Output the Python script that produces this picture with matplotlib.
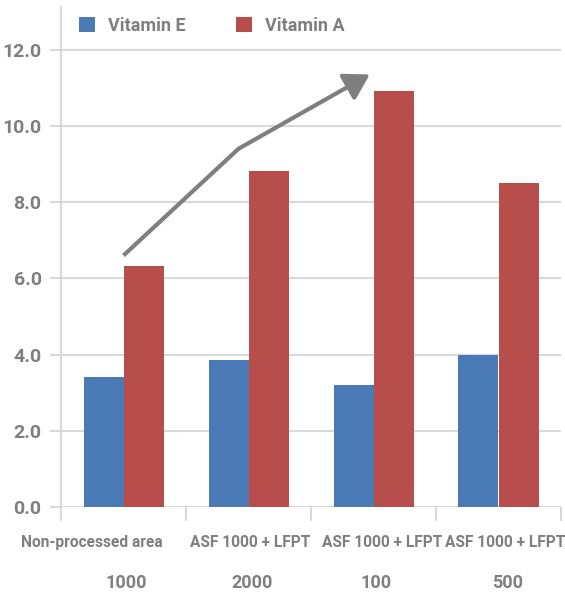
import matplotlib
matplotlib.use("Agg")
import matplotlib.pyplot as plt
import matplotlib.transforms as mtransforms
import numpy as np

# ───────────────────────── data ───────────────────────── #

treatments = ["Non-processed area", "ASF 1000 + LFPT", "ASF 1000 + LFPT", "ASF 1000 + LFPT"]
doses = ["1000", "2000", "100", "500"]
vitamin_e = [3.42, 3.85, 3.2, 4.0]
vitamin_a = [6.33, 8.82, 10.92, 8.5]
yticks = [0.0, 2.0, 4.0, 6.0, 8.0, 10.0, 12.0]

# trend arrow (category index, value)
arrow_x = [0.0, 0.92, 1.97]
arrow_y = [6.6, 9.4, 11.35]

# label nudges (in category units), mimicking the original layout
row1_shift = [-0.25, 0.01, 0.07, 0.05]
row2_shift = [0.02, 0.03, 0.02, 0.07]

# ───────────────────────── style ───────────────────────── #

plt.rcParams["font.family"] = ["Roboto", "DejaVu Sans"]

BLUE = "#4a7ab5"
RED = "#b84e4c"
GREY_TXT = "#7f7f7f"
GRID = "#d9d9d9"

fig = plt.figure(figsize=(5.65, 5.94), dpi=100)
ax = fig.add_axes([61 / 565, 1 - 507 / 594, 500 / 565, 500 / 594])

x = np.arange(len(treatments))
w = 0.32
ax.bar(x - w / 2, vitamin_e, w, color=BLUE, label="Vitamin E", zorder=3)
ax.bar(x + w / 2, vitamin_a, w, color=RED, label="Vitamin A", zorder=3)

ax.set_xlim(-0.5, len(treatments) - 0.5)
ax.set_ylim(0, 13.12)
ax.set_yticks(yticks)
ax.set_yticklabels([f"{v:.1f}" for v in yticks])
ax.set_xticks(x)
ax.set_xticklabels([])
ax.set_xticks(np.arange(len(treatments) + 1) - 0.5, minor=True)

ax.grid(axis="y", color=GRID, linewidth=1.5, zorder=0)
for s in ["top", "right", "bottom"]:
    ax.spines[s].set_visible(False)
ax.spines["left"].set_color(GRID)
ax.spines["left"].set_linewidth(1.5)

ax.tick_params(axis="y", length=8, width=1.5, color=GRID, labelcolor=GREY_TXT,
               labelsize=14, pad=6)
ax.tick_params(axis="x", which="major", length=0)
ax.tick_params(axis="x", which="minor", length=10, width=1.5, color=GRID)
for lbl in ax.get_yticklabels():
    lbl.set_fontweight("bold")

# two-row category labels
trans = mtransforms.blended_transform_factory(ax.transData, ax.transAxes)
for i, (name, dose) in enumerate(zip(treatments, doses)):
    ax.text(i + row1_shift[i], -0.08, name, transform=trans, ha="center",
            va="baseline", fontsize=11.2, fontweight="bold", color=GREY_TXT)
    ax.text(i + row2_shift[i], -0.162, dose, transform=trans, ha="center",
            va="baseline", fontsize=13, fontweight="bold", color=GREY_TXT)

# trend arrow
ax.plot(arrow_x[:2], arrow_y[:2], color="#7f7f7f", linewidth=3,
        solid_capstyle="butt", zorder=4)
ax.annotate("", xy=(arrow_x[2], arrow_y[2]), xytext=(arrow_x[1], arrow_y[1]),
            arrowprops=dict(arrowstyle="-|>,head_length=1.5,head_width=0.9",
                            color="#7f7f7f", lw=3, shrinkA=0, shrinkB=0),
            zorder=4)

leg = ax.legend(loc="upper left", bbox_to_anchor=(0.004, 1.013), ncol=2,
                frameon=False, fontsize=13, handlelength=0.85, handleheight=0.85,
                columnspacing=2.8, handletextpad=0.75)
for t in leg.get_texts():
    t.set_color(GREY_TXT)
    t.set_fontweight("bold")

fig.savefig("out.png", dpi=100)
